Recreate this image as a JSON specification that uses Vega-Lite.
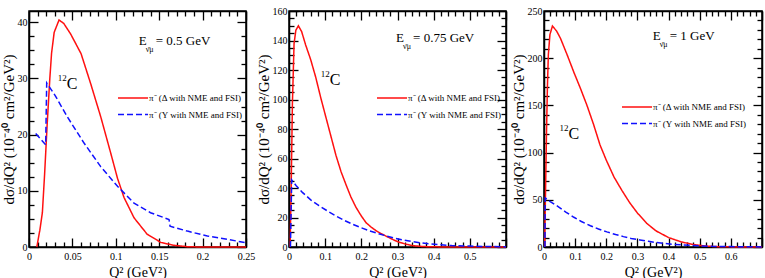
{
  "$schema": "https://vega.github.io/schema/vega-lite/v6.json",
  "padding": {"left": 0, "top": 5, "right": 2, "bottom": 0},
  "config": {
    "font": "Liberation Serif",
    "view": {"stroke": "black", "strokeWidth": 1.5},
    "axis": {
      "domainColor": "black", "domainWidth": 1.5,
      "tickColor": "black", "tickWidth": 1.3,
      "labelColor": "black", "titleColor": "black",
      "labelFont": "Liberation Serif", "titleFont": "Liberation Serif",
      "labelFontSize": 10, "titleFontSize": 15, "titleFontWeight": "normal",
      "grid": false, "labelOverlap": false, "labelFlush": false, "labelBound": false
    },
    "axisBottom": {"labelPadding": 13, "labelBaseline": "top", "titleFontSize": 14, "titlePadding": 0},
    "axisLeft": {"labelPadding": 11, "labelAlign": "right", "titlePadding": 1},
    "legend": {"labelFont": "Liberation Serif", "labelFontSize": 9, "labelColor": "black", "padding": 0}
  },
  "datasets": {
    "p1": [
      {"q": 0.009, "v": 0, "s": "D"}, {"q": 0.0125, "v": 3, "s": "D"}, {"q": 0.0154, "v": 6.1, "s": "D"},
      {"q": 0.018, "v": 13, "s": "D"}, {"q": 0.021, "v": 22, "s": "D"}, {"q": 0.024, "v": 30, "s": "D"},
      {"q": 0.026, "v": 34.5, "s": "D"}, {"q": 0.029, "v": 38.2, "s": "D"}, {"q": 0.0346, "v": 40.4, "s": "D"},
      {"q": 0.04, "v": 39.8, "s": "D"}, {"q": 0.048, "v": 37.9, "s": "D"}, {"q": 0.06, "v": 34.4, "s": "D"},
      {"q": 0.071, "v": 29.1, "s": "D"}, {"q": 0.0826, "v": 23.2, "s": "D"}, {"q": 0.094, "v": 16.8, "s": "D"},
      {"q": 0.102, "v": 12.2, "s": "D"}, {"q": 0.1095, "v": 8.8, "s": "D"}, {"q": 0.121, "v": 5.2, "s": "D"},
      {"q": 0.136, "v": 2.3, "s": "D"}, {"q": 0.152, "v": 0.8, "s": "D"}, {"q": 0.167, "v": 0.3, "s": "D"},
      {"q": 0.183, "v": 0.05, "s": "D"}, {"q": 0.2, "v": 0, "s": "D"}, {"q": 0.25, "v": 0, "s": "D"},
      {"q": 0.0077, "v": 20.2, "s": "Y"}, {"q": 0.0192, "v": 18.2, "s": "Y"}, {"q": 0.0204, "v": 29.2, "s": "Y"},
      {"q": 0.03, "v": 27, "s": "Y"}, {"q": 0.044, "v": 23.2, "s": "Y"}, {"q": 0.0634, "v": 18.5, "s": "Y"},
      {"q": 0.0826, "v": 14.3, "s": "Y"}, {"q": 0.102, "v": 10.8, "s": "Y"}, {"q": 0.121, "v": 7.8, "s": "Y"},
      {"q": 0.14, "v": 6.1, "s": "Y"}, {"q": 0.1613, "v": 4.9, "s": "Y"}, {"q": 0.1625, "v": 3.7, "s": "Y"},
      {"q": 0.1825, "v": 2.83, "s": "Y"}, {"q": 0.2055, "v": 1.95, "s": "Y"}, {"q": 0.2286, "v": 1.36, "s": "Y"},
      {"q": 0.25, "v": 0.76, "s": "Y"}
    ],
    "p2": [
      {"q": 0.003, "v": 0, "s": "D"}, {"q": 0.006, "v": 40, "s": "D"}, {"q": 0.0094, "v": 97, "s": "D"},
      {"q": 0.014, "v": 138, "s": "D"}, {"q": 0.019, "v": 147, "s": "D"}, {"q": 0.026, "v": 150, "s": "D"},
      {"q": 0.035, "v": 146, "s": "D"}, {"q": 0.046, "v": 137, "s": "D"}, {"q": 0.06, "v": 127, "s": "D"},
      {"q": 0.074, "v": 115, "s": "D"}, {"q": 0.088, "v": 101, "s": "D"}, {"q": 0.102, "v": 88, "s": "D"},
      {"q": 0.116, "v": 75, "s": "D"}, {"q": 0.13, "v": 62, "s": "D"}, {"q": 0.144, "v": 51, "s": "D"},
      {"q": 0.158, "v": 42, "s": "D"}, {"q": 0.171, "v": 34, "s": "D"}, {"q": 0.185, "v": 27, "s": "D"},
      {"q": 0.2, "v": 21, "s": "D"}, {"q": 0.213, "v": 16.5, "s": "D"}, {"q": 0.227, "v": 13.5, "s": "D"},
      {"q": 0.241, "v": 11, "s": "D"}, {"q": 0.257, "v": 8.8, "s": "D"}, {"q": 0.273, "v": 6.8, "s": "D"},
      {"q": 0.29, "v": 4.7, "s": "D"}, {"q": 0.306, "v": 3.1, "s": "D"}, {"q": 0.325, "v": 1.8, "s": "D"},
      {"q": 0.343, "v": 0.9, "s": "D"}, {"q": 0.37, "v": 0.3, "s": "D"}, {"q": 0.42, "v": 0.05, "s": "D"},
      {"q": 0.6, "v": 0, "s": "D"},
      {"q": 0.004, "v": 0, "s": "Y"}, {"q": 0.0075, "v": 45.5, "s": "Y"}, {"q": 0.02, "v": 41.5, "s": "Y"},
      {"q": 0.037, "v": 37, "s": "Y"}, {"q": 0.06, "v": 32, "s": "Y"}, {"q": 0.083, "v": 28, "s": "Y"},
      {"q": 0.106, "v": 24.5, "s": "Y"}, {"q": 0.13, "v": 21, "s": "Y"}, {"q": 0.153, "v": 18, "s": "Y"},
      {"q": 0.176, "v": 15.4, "s": "Y"}, {"q": 0.2, "v": 13, "s": "Y"}, {"q": 0.222, "v": 11, "s": "Y"},
      {"q": 0.245, "v": 9.2, "s": "Y"}, {"q": 0.269, "v": 7.5, "s": "Y"}, {"q": 0.292, "v": 6, "s": "Y"},
      {"q": 0.315, "v": 4.8, "s": "Y"}, {"q": 0.338, "v": 3.8, "s": "Y"}, {"q": 0.361, "v": 2.9, "s": "Y"},
      {"q": 0.39, "v": 2.1, "s": "Y"}, {"q": 0.417, "v": 1.5, "s": "Y"}, {"q": 0.45, "v": 1, "s": "Y"},
      {"q": 0.5, "v": 0.6, "s": "Y"}, {"q": 0.55, "v": 0.3, "s": "Y"}, {"q": 0.6, "v": 0.2, "s": "Y"}
    ],
    "p3": [
      {"q": 0.002, "v": 0, "s": "D"}, {"q": 0.005, "v": 60, "s": "D"}, {"q": 0.008, "v": 120, "s": "D"},
      {"q": 0.011, "v": 170, "s": "D"}, {"q": 0.014, "v": 204, "s": "D"}, {"q": 0.019, "v": 225, "s": "D"},
      {"q": 0.027, "v": 234, "s": "D"}, {"q": 0.04, "v": 229, "s": "D"}, {"q": 0.053, "v": 221, "s": "D"},
      {"q": 0.075, "v": 203, "s": "D"}, {"q": 0.096, "v": 185, "s": "D"}, {"q": 0.117, "v": 168, "s": "D"},
      {"q": 0.138, "v": 150, "s": "D"}, {"q": 0.159, "v": 130, "s": "D"}, {"q": 0.18, "v": 108, "s": "D"},
      {"q": 0.2, "v": 92, "s": "D"}, {"q": 0.225, "v": 74, "s": "D"}, {"q": 0.25, "v": 60, "s": "D"},
      {"q": 0.275, "v": 47, "s": "D"}, {"q": 0.3, "v": 36, "s": "D"}, {"q": 0.33, "v": 25, "s": "D"},
      {"q": 0.36, "v": 17, "s": "D"}, {"q": 0.4, "v": 10, "s": "D"}, {"q": 0.44, "v": 5.5, "s": "D"},
      {"q": 0.48, "v": 2.6, "s": "D"}, {"q": 0.52, "v": 1, "s": "D"}, {"q": 0.56, "v": 0.3, "s": "D"},
      {"q": 0.62, "v": 0.05, "s": "D"}, {"q": 0.7, "v": 0, "s": "D"},
      {"q": 0.003, "v": 0, "s": "Y"}, {"q": 0.004, "v": 52, "s": "Y"}, {"q": 0.02, "v": 48, "s": "Y"},
      {"q": 0.042, "v": 43.6, "s": "Y"}, {"q": 0.07, "v": 37, "s": "Y"}, {"q": 0.096, "v": 31.5, "s": "Y"},
      {"q": 0.12, "v": 27, "s": "Y"}, {"q": 0.149, "v": 22.5, "s": "Y"}, {"q": 0.175, "v": 19, "s": "Y"},
      {"q": 0.202, "v": 16, "s": "Y"}, {"q": 0.23, "v": 13.2, "s": "Y"}, {"q": 0.255, "v": 11, "s": "Y"},
      {"q": 0.28, "v": 9, "s": "Y"}, {"q": 0.308, "v": 7.4, "s": "Y"}, {"q": 0.335, "v": 6, "s": "Y"},
      {"q": 0.361, "v": 4.7, "s": "Y"}, {"q": 0.39, "v": 3.7, "s": "Y"}, {"q": 0.414, "v": 2.9, "s": "Y"},
      {"q": 0.44, "v": 2.3, "s": "Y"}, {"q": 0.467, "v": 1.8, "s": "Y"}, {"q": 0.5, "v": 1.2, "s": "Y"},
      {"q": 0.54, "v": 0.7, "s": "Y"}, {"q": 0.6, "v": 0.4, "s": "Y"}, {"q": 0.65, "v": 0.2, "s": "Y"},
      {"q": 0.7, "v": 0.1, "s": "Y"}
    ],
    "a1": [
      {"kind": "energy", "q": 0.1264, "v": 35.9, "label": "= 0.5 GeV"},
      {"kind": "nucleus", "q": 0.0434, "v": 28.1, "label": "C"}
    ],
    "a2": [
      {"kind": "energy", "q": 0.296, "v": 139, "label": "= 0.75 GeV"},
      {"kind": "nucleus", "q": 0.113, "v": 110, "label": "C"}
    ],
    "a3": [
      {"kind": "energy", "q": 0.349, "v": 218.8, "label": "= 1 GeV"},
      {"kind": "nucleus", "q": 0.0787, "v": 114, "label": "C"}
    ]
  },
  "bounds": "flush",
  "spacing": 43,
  "resolve": {"scale": {"color": "independent", "strokeDash": "independent"}, "legend": {"color": "independent", "strokeDash": "independent"}},
  "hconcat": [
    {
      "width": 217, "height": 236,
      "resolve": {"axis": {"x": "independent", "y": "independent"}},
      "layer": [
        {
          "data": {"name": "p1"},
          "mark": {"type": "line", "strokeWidth": 1.5},
          "encoding": {
            "x": {"field": "q", "type": "quantitative", "scale": {"domain": [0, 0.25], "nice": false},
              "axis": {"orient": "bottom", "title": "Q² (GeV²)",
                "values": [0, 0.01, 0.02, 0.03, 0.04, 0.05, 0.06, 0.07, 0.08, 0.09, 0.1, 0.11, 0.12, 0.13, 0.14, 0.15, 0.16, 0.17, 0.18, 0.19, 0.2, 0.21, 0.22, 0.23, 0.24, 0.25],
                "labelExpr": "round(datum.value*1000) % 50 === 0 ? '' + datum.value : ''",
                "tickSize": {"condition": {"test": "round(datum.value*1000) % 50 === 0", "value": -9}, "value": -5}}},
            "y": {"field": "v", "type": "quantitative", "scale": {"domain": [0, 42], "nice": false},
              "axis": {"orient": "left", "title": "dσ/dQ² (10⁻⁴⁰ cm²/GeV²)",
                "values": [0, 2.5, 5, 7.5, 10, 12.5, 15, 17.5, 20, 22.5, 25, 27.5, 30, 32.5, 35, 37.5, 40],
                "labelExpr": "datum.value % 10 === 0 ? '' + datum.value : ''",
                "tickSize": {"condition": {"test": "datum.value % 10 === 0", "value": -9}, "value": -5}}},
            "color": {"field": "s", "type": "nominal", "scale": {"domain": ["D", "Y"], "range": ["#ff1010", "#1010ff"]},
              "legend": {"orient": "none", "legendX": 98, "legendY": 81, "title": null, "symbolType": "M-3,0H3", "symbolSize": 100, "symbolStrokeWidth": 1.6, "labelOffset": 10, "rowPadding": 5.5,
                "labelExpr": "datum.label === 'D' ? 'π⁻ (Δ with NME and FSI)' : 'π⁻ (Y with NME and FSI)'"}},
            "strokeDash": {"field": "s", "type": "nominal", "scale": {"domain": ["D", "Y"], "range": [[1, 0], [6, 3]]},
              "legend": {"orient": "none", "legendX": 98, "legendY": 81, "title": null, "symbolType": "M-3,0H3", "symbolSize": 100, "symbolStrokeWidth": 1.6, "labelOffset": 10, "rowPadding": 5.5,
                "labelExpr": "datum.label === 'D' ? 'π⁻ (Δ with NME and FSI)' : 'π⁻ (Y with NME and FSI)'"}}
          }
        },
        {
          "data": {"name": "a1"},
          "encoding": {
            "x": {"field": "q", "type": "quantitative", "scale": {"domain": [0, 0.25], "nice": false},
              "axis": {"orient": "top", "title": null, "labels": false,
                "values": [0, 0.01, 0.02, 0.03, 0.04, 0.05, 0.06, 0.07, 0.08, 0.09, 0.1, 0.11, 0.12, 0.13, 0.14, 0.15, 0.16, 0.17, 0.18, 0.19, 0.2, 0.21, 0.22, 0.23, 0.24, 0.25],
                "tickSize": {"condition": {"test": "round(datum.value*1000) % 50 === 0", "value": -9}, "value": -5}}},
            "y": {"field": "v", "type": "quantitative", "scale": {"domain": [0, 42], "nice": false},
              "axis": {"orient": "right", "title": null, "labels": false,
                "values": [0, 2.5, 5, 7.5, 10, 12.5, 15, 17.5, 20, 22.5, 25, 27.5, 30, 32.5, 35, 37.5, 40],
                "tickSize": {"condition": {"test": "datum.value % 10 === 0", "value": -9}, "value": -5}}}
          },
          "layer": [
            {"transform": [{"filter": "datum.kind === 'energy'"}], "mark": {"type": "text", "align": "left", "baseline": "alphabetic", "fontSize": 13, "text": "E"}},
            {"transform": [{"filter": "datum.kind === 'energy'"}], "mark": {"type": "text", "align": "left", "baseline": "alphabetic", "fontSize": 8, "dx": 7, "dy": 7, "text": "ν̄μ"}},
            {"transform": [{"filter": "datum.kind === 'energy'"}], "mark": {"type": "text", "align": "left", "baseline": "alphabetic", "fontSize": 13, "dx": 17}, "encoding": {"text": {"field": "label"}}},
            {"transform": [{"filter": "datum.kind === 'nucleus'"}], "mark": {"type": "text", "align": "right", "baseline": "alphabetic", "fontSize": 9, "dx": 0, "dy": -8, "text": "12"}},
            {"transform": [{"filter": "datum.kind === 'nucleus'"}], "mark": {"type": "text", "align": "left", "baseline": "alphabetic", "fontSize": 16}, "encoding": {"text": {"field": "label"}}}
          ]
        }
      ]
    },
    {
      "bounds": "flush",
      "spacing": 38,
      "resolve": {"scale": {"color": "independent", "strokeDash": "independent"}, "legend": {"color": "independent", "strokeDash": "independent"}},
      "hconcat": [
        {
          "width": 217, "height": 236,
          "resolve": {"axis": {"x": "independent", "y": "independent"}},
          "layer": [
            {
              "data": {"name": "p2"},
              "mark": {"type": "line", "strokeWidth": 1.5},
              "encoding": {
                "x": {"field": "q", "type": "quantitative", "scale": {"domain": [0, 0.6], "nice": false},
                  "axis": {"orient": "bottom", "title": "Q² (GeV²)",
                    "values": [0, 0.02, 0.04, 0.06, 0.08, 0.1, 0.12, 0.14, 0.16, 0.18, 0.2, 0.22, 0.24, 0.26, 0.28, 0.3, 0.32, 0.34, 0.36, 0.38, 0.4, 0.42, 0.44, 0.46, 0.48, 0.5, 0.52, 0.54, 0.56, 0.58, 0.6],
                    "labelExpr": "round(datum.value*100) % 10 === 0 && datum.value < 0.55 ? '' + datum.value : ''",
                    "tickSize": {"condition": {"test": "round(datum.value*100) % 10 === 0", "value": -9}, "value": -5}}},
                "y": {"field": "v", "type": "quantitative", "scale": {"domain": [0, 160], "nice": false},
                  "axis": {"orient": "left", "title": "dσ/dQ² (10⁻⁴⁰ cm²/GeV²)",
                    "values": [0, 5, 10, 15, 20, 25, 30, 35, 40, 45, 50, 55, 60, 65, 70, 75, 80, 85, 90, 95, 100, 105, 110, 115, 120, 125, 130, 135, 140, 145, 150, 155, 160],
                    "labelExpr": "datum.value % 20 === 0 ? '' + datum.value : ''",
                    "tickSize": {"condition": {"test": "datum.value % 20 === 0", "value": -9}, "value": -5}}},
                "color": {"field": "s", "type": "nominal", "scale": {"domain": ["D", "Y"], "range": ["#ff1010", "#1010ff"]},
                  "legend": {"orient": "none", "legendX": 97, "legendY": 81, "title": null, "symbolType": "M-3,0H3", "symbolSize": 100, "symbolStrokeWidth": 1.6, "labelOffset": 10, "rowPadding": 5.5,
                    "labelExpr": "datum.label === 'D' ? 'π⁻ (Δ with NME and FSI)' : 'π⁻ (Y with NME and FSI)'"}},
                "strokeDash": {"field": "s", "type": "nominal", "scale": {"domain": ["D", "Y"], "range": [[1, 0], [6, 3]]},
                  "legend": {"orient": "none", "legendX": 97, "legendY": 81, "title": null, "symbolType": "M-3,0H3", "symbolSize": 100, "symbolStrokeWidth": 1.6, "labelOffset": 10, "rowPadding": 5.5,
                    "labelExpr": "datum.label === 'D' ? 'π⁻ (Δ with NME and FSI)' : 'π⁻ (Y with NME and FSI)'"}}
              }
            },
            {
              "data": {"name": "a2"},
              "encoding": {
                "x": {"field": "q", "type": "quantitative", "scale": {"domain": [0, 0.6], "nice": false},
                  "axis": {"orient": "top", "title": null, "labels": false,
                    "values": [0, 0.02, 0.04, 0.06, 0.08, 0.1, 0.12, 0.14, 0.16, 0.18, 0.2, 0.22, 0.24, 0.26, 0.28, 0.3, 0.32, 0.34, 0.36, 0.38, 0.4, 0.42, 0.44, 0.46, 0.48, 0.5, 0.52, 0.54, 0.56, 0.58, 0.6],
                    "tickSize": {"condition": {"test": "round(datum.value*100) % 10 === 0", "value": -9}, "value": -5}}},
                "y": {"field": "v", "type": "quantitative", "scale": {"domain": [0, 160], "nice": false},
                  "axis": {"orient": "right", "title": null, "labels": false,
                    "values": [0, 5, 10, 15, 20, 25, 30, 35, 40, 45, 50, 55, 60, 65, 70, 75, 80, 85, 90, 95, 100, 105, 110, 115, 120, 125, 130, 135, 140, 145, 150, 155, 160],
                    "tickSize": {"condition": {"test": "datum.value % 20 === 0", "value": -9}, "value": -5}}}
              },
              "layer": [
                {"transform": [{"filter": "datum.kind === 'energy'"}], "mark": {"type": "text", "align": "left", "baseline": "alphabetic", "fontSize": 13, "text": "E"}},
                {"transform": [{"filter": "datum.kind === 'energy'"}], "mark": {"type": "text", "align": "left", "baseline": "alphabetic", "fontSize": 8, "dx": 7, "dy": 7, "text": "ν̄μ"}},
                {"transform": [{"filter": "datum.kind === 'energy'"}], "mark": {"type": "text", "align": "left", "baseline": "alphabetic", "fontSize": 13, "dx": 17}, "encoding": {"text": {"field": "label"}}},
                {"transform": [{"filter": "datum.kind === 'nucleus'"}], "mark": {"type": "text", "align": "right", "baseline": "alphabetic", "fontSize": 9, "dx": 0, "dy": -8, "text": "12"}},
                {"transform": [{"filter": "datum.kind === 'nucleus'"}], "mark": {"type": "text", "align": "left", "baseline": "alphabetic", "fontSize": 16}, "encoding": {"text": {"field": "label"}}}
              ]
            }
          ]
        },
        {
          "width": 218, "height": 236,
          "resolve": {"axis": {"x": "independent", "y": "independent"}},
          "layer": [
            {
              "data": {"name": "p3"},
              "mark": {"type": "line", "strokeWidth": 1.5},
              "encoding": {
                "x": {"field": "q", "type": "quantitative", "scale": {"domain": [0, 0.7], "nice": false},
                  "axis": {"orient": "bottom", "title": "Q² (GeV²)",
                    "values": [0, 0.02, 0.04, 0.06, 0.08, 0.1, 0.12, 0.14, 0.16, 0.18, 0.2, 0.22, 0.24, 0.26, 0.28, 0.3, 0.32, 0.34, 0.36, 0.38, 0.4, 0.42, 0.44, 0.46, 0.48, 0.5, 0.52, 0.54, 0.56, 0.58, 0.6, 0.62, 0.64, 0.66, 0.68, 0.7],
                    "labelExpr": "round(datum.value*100) % 10 === 0 && datum.value < 0.65 ? '' + datum.value : ''",
                    "tickSize": {"condition": {"test": "round(datum.value*100) % 10 === 0", "value": -9}, "value": -5}}},
                "y": {"field": "v", "type": "quantitative", "scale": {"domain": [0, 250], "nice": false},
                  "axis": {"orient": "left", "title": "dσ/dQ² (10⁻⁴⁰ cm²/GeV²)",
                    "values": [0, 10, 20, 30, 40, 50, 60, 70, 80, 90, 100, 110, 120, 130, 140, 150, 160, 170, 180, 190, 200, 210, 220, 230, 240, 250],
                    "labelExpr": "datum.value % 50 === 0 ? '' + datum.value : ''",
                    "tickSize": {"condition": {"test": "datum.value % 50 === 0", "value": -9}, "value": -5}}},
                "color": {"field": "s", "type": "nominal", "scale": {"domain": ["D", "Y"], "range": ["#ff1010", "#1010ff"]},
                  "legend": {"orient": "none", "legendX": 87, "legendY": 90, "title": null, "symbolType": "M-3,0H3", "symbolSize": 100, "symbolStrokeWidth": 1.6, "labelOffset": 10, "rowPadding": 5.5,
                    "labelExpr": "datum.label === 'D' ? 'π⁻ (Δ with NME and FSI)' : 'π⁻ (Y with NME and FSI)'"}},
                "strokeDash": {"field": "s", "type": "nominal", "scale": {"domain": ["D", "Y"], "range": [[1, 0], [6, 3]]},
                  "legend": {"orient": "none", "legendX": 87, "legendY": 90, "title": null, "symbolType": "M-3,0H3", "symbolSize": 100, "symbolStrokeWidth": 1.6, "labelOffset": 10, "rowPadding": 5.5,
                    "labelExpr": "datum.label === 'D' ? 'π⁻ (Δ with NME and FSI)' : 'π⁻ (Y with NME and FSI)'"}}
              }
            },
            {
              "data": {"name": "a3"},
              "encoding": {
                "x": {"field": "q", "type": "quantitative", "scale": {"domain": [0, 0.7], "nice": false},
                  "axis": {"orient": "top", "title": null, "labels": false,
                    "values": [0, 0.02, 0.04, 0.06, 0.08, 0.1, 0.12, 0.14, 0.16, 0.18, 0.2, 0.22, 0.24, 0.26, 0.28, 0.3, 0.32, 0.34, 0.36, 0.38, 0.4, 0.42, 0.44, 0.46, 0.48, 0.5, 0.52, 0.54, 0.56, 0.58, 0.6, 0.62, 0.64, 0.66, 0.68, 0.7],
                    "tickSize": {"condition": {"test": "round(datum.value*100) % 10 === 0", "value": -9}, "value": -5}}},
                "y": {"field": "v", "type": "quantitative", "scale": {"domain": [0, 250], "nice": false},
                  "axis": {"orient": "right", "title": null, "labels": false,
                    "values": [0, 10, 20, 30, 40, 50, 60, 70, 80, 90, 100, 110, 120, 130, 140, 150, 160, 170, 180, 190, 200, 210, 220, 230, 240, 250],
                    "tickSize": {"condition": {"test": "datum.value % 50 === 0", "value": -9}, "value": -5}}}
              },
              "layer": [
                {"transform": [{"filter": "datum.kind === 'energy'"}], "mark": {"type": "text", "align": "left", "baseline": "alphabetic", "fontSize": 13, "text": "E"}},
                {"transform": [{"filter": "datum.kind === 'energy'"}], "mark": {"type": "text", "align": "left", "baseline": "alphabetic", "fontSize": 8, "dx": 7, "dy": 7, "text": "ν̄μ"}},
                {"transform": [{"filter": "datum.kind === 'energy'"}], "mark": {"type": "text", "align": "left", "baseline": "alphabetic", "fontSize": 13, "dx": 17}, "encoding": {"text": {"field": "label"}}},
                {"transform": [{"filter": "datum.kind === 'nucleus'"}], "mark": {"type": "text", "align": "right", "baseline": "alphabetic", "fontSize": 9, "dx": 0, "dy": -8, "text": "12"}},
                {"transform": [{"filter": "datum.kind === 'nucleus'"}], "mark": {"type": "text", "align": "left", "baseline": "alphabetic", "fontSize": 16}, "encoding": {"text": {"field": "label"}}}
              ]
            }
          ]
        }
      ]
    }
  ]
}
